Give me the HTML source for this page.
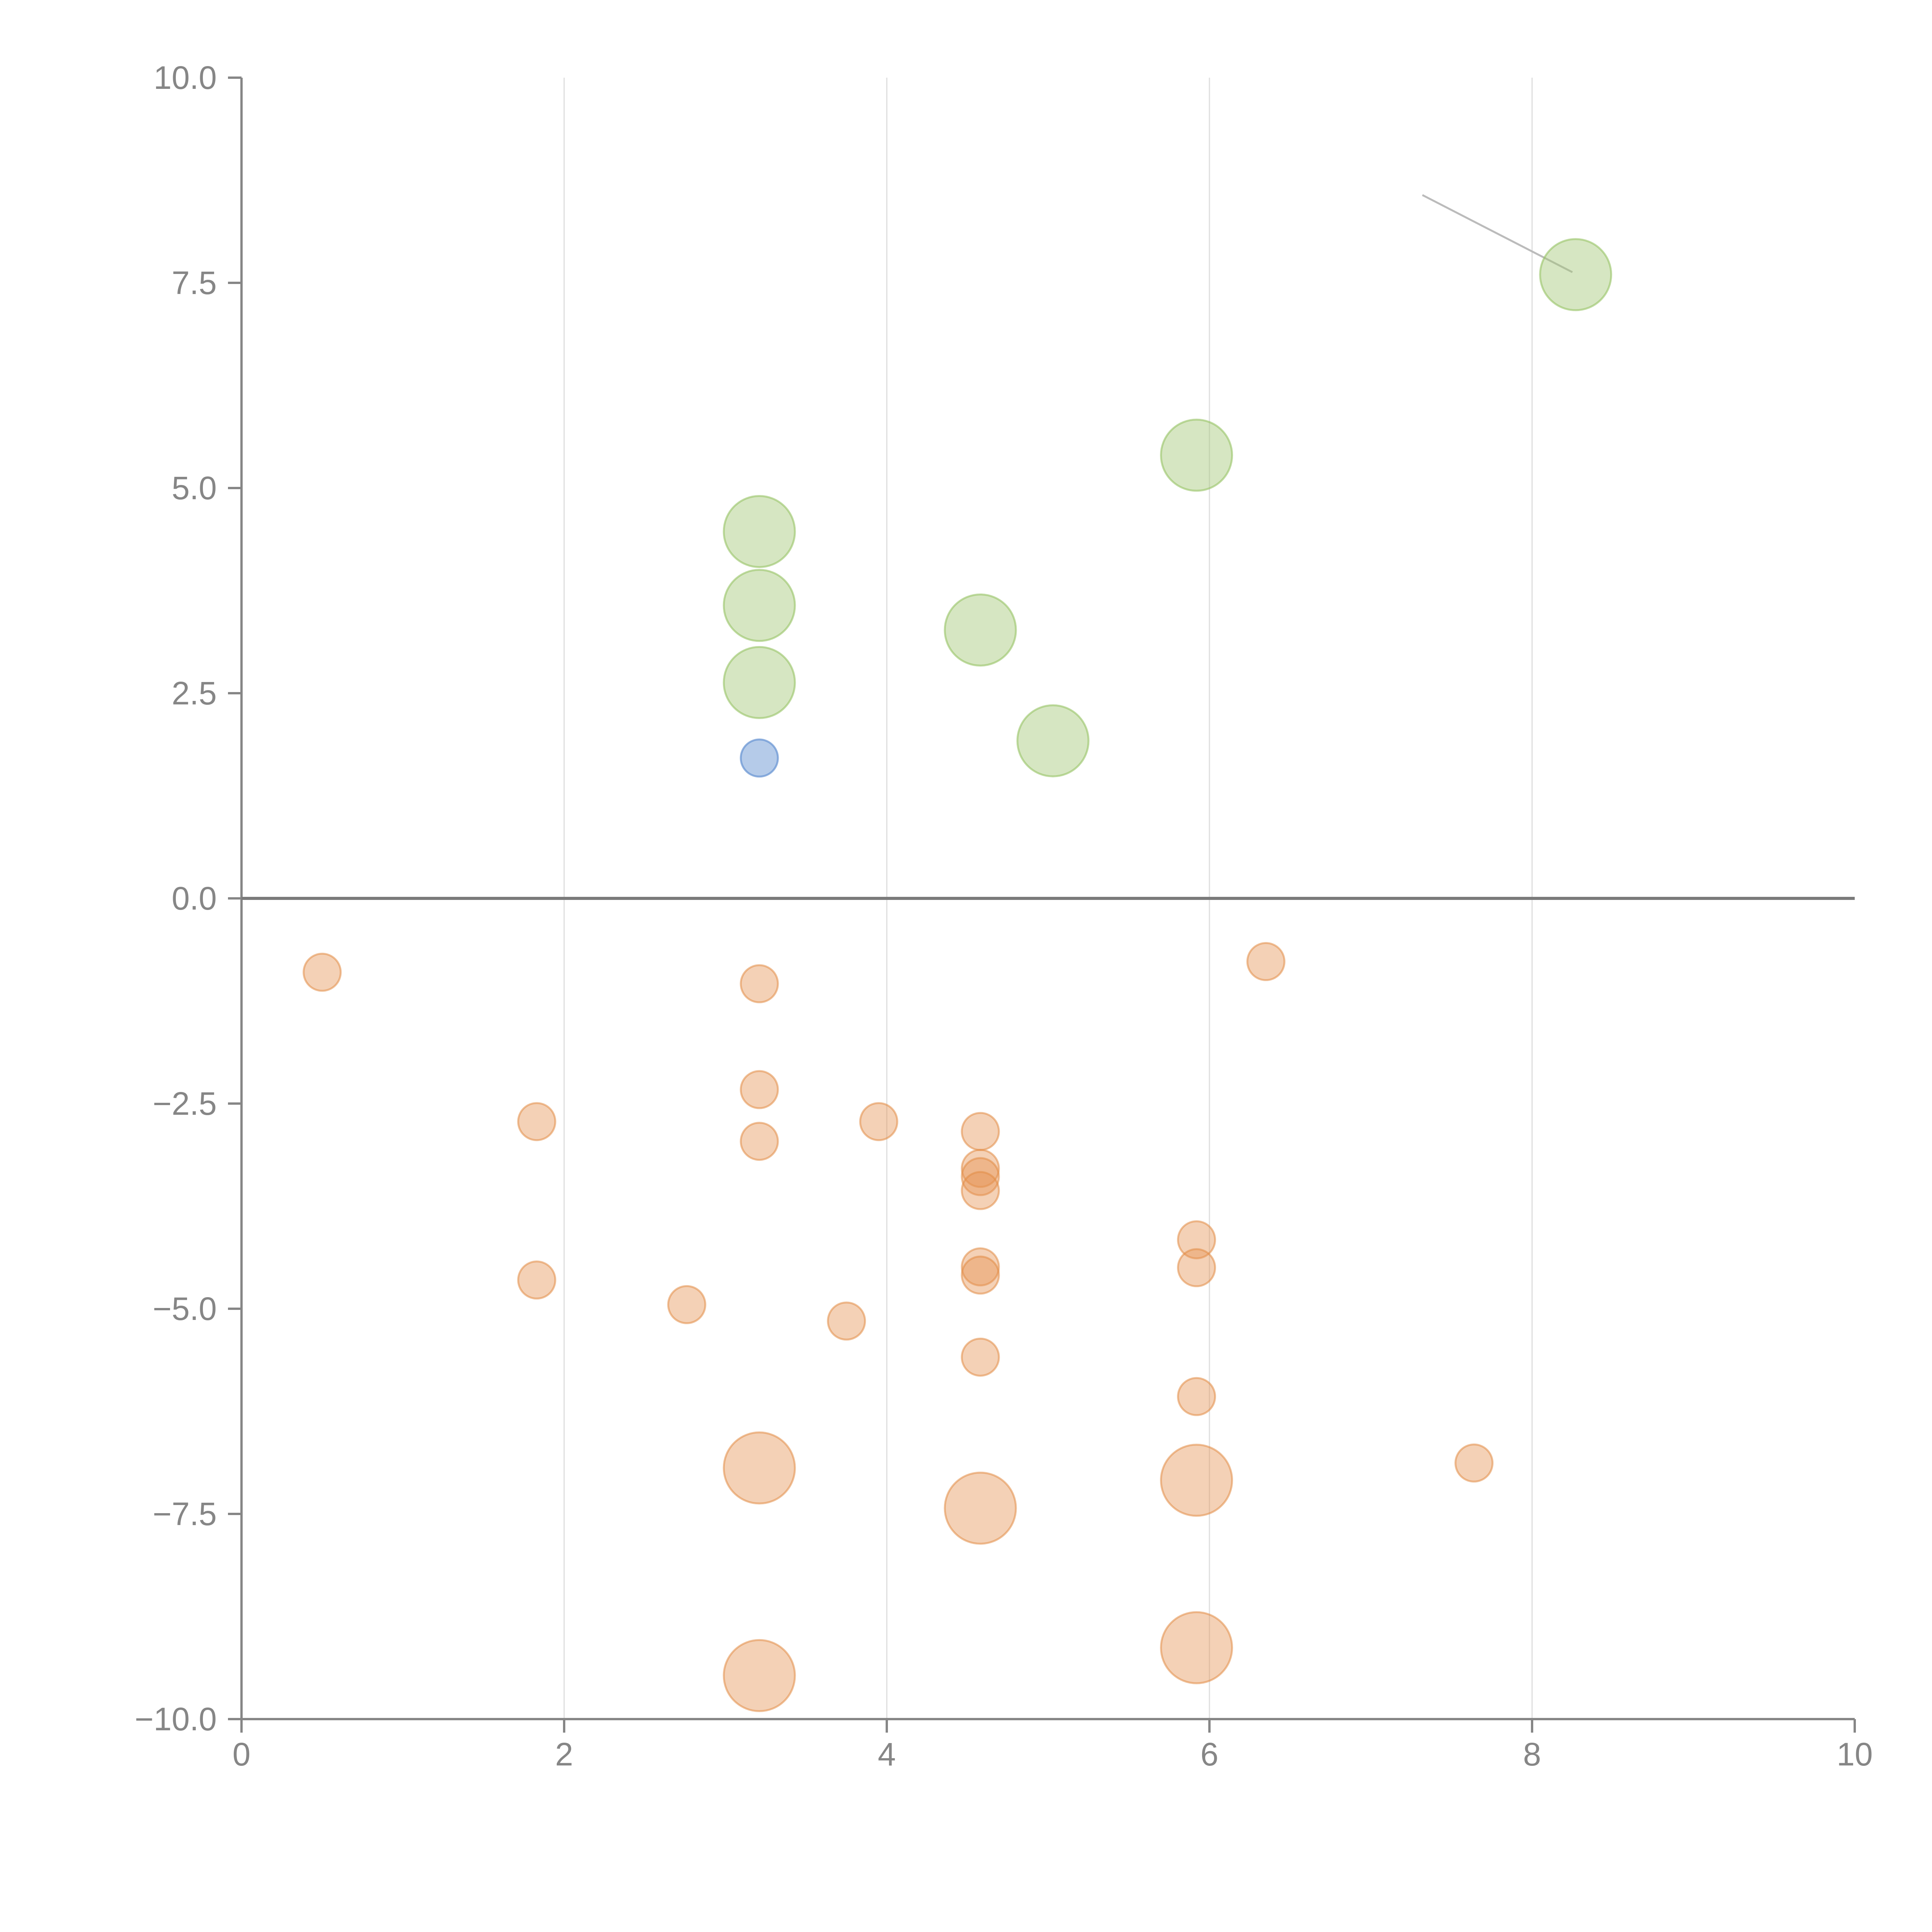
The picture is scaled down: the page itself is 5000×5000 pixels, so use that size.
<!DOCTYPE html>
<html><head><meta charset="utf-8"><style>
html,body{margin:0;padding:0;background:#fff;overflow:hidden;width:5000px;height:5000px}
svg{display:block}
svg text{font-family:"Liberation Sans",sans-serif;fill:#868686;font-size:84px}
</style></head><body>
<svg id="chart" width="5000" height="5000" viewBox="0 0 5000 5000" xmlns="http://www.w3.org/2000/svg">
<g id="grid"></g>
<g id="axes"></g>
<g id="marks"></g>
</svg>
<script>
const xTicks=[0,2,4,6,8,10];
const yTicks=[10,7.5,5,2.5,0,-2.5,-5,-7.5,-10];
const yTickLabels=["10.0","7.5","5.0","2.5","0.0","\u22122.5","\u22125.0","\u22127.5","\u221210.0"];
const greenX=[8.27,5.92,3.21,3.21,3.21,4.58,5.03];
const greenY=[7.6,5.4,4.47,3.57,2.63,3.27,1.92];
const blueX=[3.21];
const blueY=[1.71];
const orangeSmallX=[0.5,3.21,6.35,3.21,1.83,3.95,3.21,4.58,4.58,4.58,4.58,5.92,5.92,4.58,4.58,1.83,2.76,3.75,4.58,5.92,7.64];
const orangeSmallY=[-0.9,-1.04,-0.77,-2.33,-2.72,-2.72,-2.96,-2.84,-3.29,-3.39,-3.56,-4.16,-4.5,-4.49,-4.59,-4.65,-4.95,-5.15,-5.59,-6.07,-6.88];
const orangeLargeX=[3.21,5.92,4.58,5.92,3.21];
const orangeLargeY=[-6.94,-7.09,-7.43,-9.13,-9.47];
const leaderX=[7.32,8.25];
const leaderY=[8.57,7.63];

const X0=625,X1=4800,Y0=4449,Y1=201;
const sx=v=>X0+(v-0)/(10-0)*(X1-X0);
const sy=v=>Y0-(v+10)/20*(Y0-Y1);
const NS="http://www.w3.org/2000/svg";
function mk(tag,attrs,parent){const e=document.createElementNS(NS,tag);for(const k in attrs)e.setAttribute(k,attrs[k]);parent.appendChild(e);return e;}
const grid=document.getElementById('grid'),axes=document.getElementById('axes'),marks=document.getElementById('marks');

xTicks.forEach(t=>{
  if(t>0&&t<10){const l=mk('line',{x1:sx(t),x2:sx(t),y1:Y1,y2:Y0,stroke:'#dedede','stroke-width':3},grid);
  
  }
  const tk=mk('line',{x1:sx(t),x2:sx(t),y1:Y0,y2:Y0+35,stroke:'#868686','stroke-width':6},axes);
  
  
  const tx=mk('text',{x:sx(t),y:Y0+120,'text-anchor':'middle'},axes);tx.textContent=t;
  
  
});
yTicks.forEach((t,i)=>{
  const tk=mk('line',{x1:X0-35,x2:X0,y1:sy(t),y2:sy(t),stroke:'#868686','stroke-width':6},axes);
  
  
  const tx=mk('text',{x:X0-64,y:sy(t)+29,'text-anchor':'end'},axes);tx.textContent=yTickLabels[i];
  
  
});
const ya=mk('line',{x1:X0,x2:X0,y1:Y1,y2:Y0+35,stroke:'#868686','stroke-width':6},axes);


const xa=mk('line',{x1:X0-35,x2:X1,y1:Y0,y2:Y0,stroke:'#868686','stroke-width':6},axes);


const zl=mk('line',{x1:X0,x2:X1,y1:sy(0),y2:sy(0),stroke:'#7a7a7a','stroke-width':8},axes);



const ld=mk('line',{x1:sx(leaderX[0]),y1:sy(leaderY[0]),x2:sx(leaderX[1]),y2:sy(leaderY[1]),stroke:'#bbbbbb','stroke-width':5},marks);



function bubbles(xs,ys,r,fill,stroke,name){
  xs.forEach((x,i)=>{
    const c=mk('circle',{cx:sx(x),cy:sy(ys[i]),r:r,fill:fill,stroke:stroke,'stroke-width':5},marks);
    
    
  });
}
bubbles(greenX,greenY,92,'rgba(165,200,120,0.45)','rgba(150,195,100,0.6)','green-bubble');
bubbles(blueX,blueY,48,'rgba(120,160,215,0.55)','rgba(100,145,210,0.7)','blue-bubble');
bubbles(orangeSmallX,orangeSmallY,48,'rgba(228,145,80,0.42)','rgba(225,140,70,0.55)','orange-bubble-small');
bubbles(orangeLargeX,orangeLargeY,92,'rgba(228,145,80,0.42)','rgba(225,140,70,0.55)','orange-bubble-large');
</script>
</body></html>
